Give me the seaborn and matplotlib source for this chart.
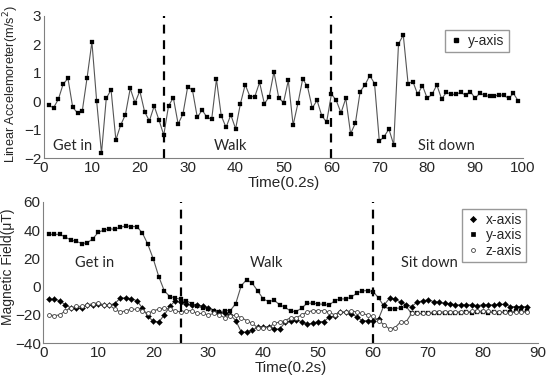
import numpy as np
import pandas as pd
import seaborn as sns
import matplotlib.pyplot as plt
from matplotlib.lines import Line2D

# top panel: linear acceleration, y-axis
acc_t = np.arange(1, 100)
acc_y = [-0.15, -0.23, 0.07, 0.6, 0.8, -0.22, -0.41, -0.33, 0.83, 2.08,
         -0.01, -1.83, 0.1, 0.4, -1.36, -0.84, -0.47, 0.45, -0.06, 0.36,
         -0.37, -0.69, -0.17, -0.66, -1.19, -0.16, 0.12, -0.8, -0.45, 0.51,
         0.38, -0.57, -0.31, -0.56, -0.64, 0.77, -0.51, -0.92, -0.48, -0.97,
         -0.09, 0.58, 0.16, 0.16, 0.66, -0.09, 0.15, 1.03, 0.12, -0.05,
         0.73, -0.84, -0.08, 0.78, 0.52, -0.24, 0.03, -0.52, -0.73, 0.25,
         0.03, -0.41, 0.1, -1.14, -0.77, 0.34, 0.57, 0.9, 0.62, -1.41,
         -1.24, -0.98, -1.53, 2.01, 2.32, 0.62, 0.69, 0.24, 0.55, 0.1,
         0.24, 0.57, 0.08, 0.31, 0.24, 0.24, 0.31, 0.21, 0.34, 0.1,
         0.29, 0.2, 0.17, 0.17, 0.23, 0.2, 0.1, 0.27, 0.01]

# bottom panel: magnetic field, three axes
mag_t = np.arange(1, 89)
mag_x = [-9, -9, -10, -13, -15, -15, -15, -13, -13, -12.5,
         -13, -13, -12, -8, -8, -8.5, -10, -15, -21, -24.5,
         -25, -20, -14, -10, -11, -12, -13, -13, -14, -15,
         -17, -18, -19, -20, -24, -32, -32.3, -30.7, -28.8, -28.8,
         -28.3, -30, -30, -25.2, -24.2, -23.8, -24.7, -26.6, -25.9, -24.7,
         -24.7, -21.7, -20.6, -18.1, -18.1, -19.3, -21.2, -24, -24.2, -24,
         -22.8, -13, -8.2, -8.7, -11, -12.9, -14.1, -11, -10.1, -9.4,
         -10.6, -11, -11.8, -12, -12.9, -12.9, -12.9, -12.9, -13.4, -12.9,
         -12.9, -12.9, -12.5, -12.5, -14.1, -14.1, -14.1, -14.1]
mag_y = [37, 37, 37, 35, 33, 32, 30.5, 31, 34, 38.5,
         40, 41, 40.5, 42, 43, 42.5, 42.5, 38, 30, 19.5,
         7, -3, -7, -8, -9, -10, -12, -14, -15, -16,
         -17, -18, -17, -17, -12, 0.7, 5, 2.4, -3, -8.7,
         -10.6, -9.6, -12.9, -14.6, -17.4, -17.6, -15.2, -11.7, -11.7, -12.2,
         -12.5, -13.2, -9.9, -8.7, -8.7, -7.5, -4.7, -3, -2.8, -3.5,
         -8, -14, -16, -15.5, -15, -14, -19, -19, -19, -19,
         -19, -19, -18.5, -18.5, -18.5, -18.5, -18, -18.5, -18, -18,
         -18.5, -18, -18.5, -18, -18, -17.5, -17.5, -17.5]
mag_z = [-20, -20.5, -20, -17, -15, -14, -14, -13, -12, -11.5,
         -13, -13, -16, -18, -17, -16, -16, -17, -19, -17,
         -16, -15, -16, -17, -18, -17, -17, -19, -19, -20,
         -19, -20, -22, -21, -20, -22, -24, -26, -29, -29,
         -29, -26, -25, -24, -22, -22, -20, -18, -17, -17,
         -17, -18, -20, -18, -18, -17, -18, -19, -20, -21,
         -24, -27, -30, -29, -25, -25, -19, -19, -19, -19,
         -18, -18, -18, -18, -18, -18, -18, -17.5, -17.5, -17.5,
         -17.5, -18, -18, -18, -18.5, -18, -18, -18]

phase_names = ['Get in', 'Walk', 'Sit down']
phase_bounds = [25, 60]

sns.set_style('white')
plt.rcParams['font.family'] = ['Liberation Sans', 'DejaVu Sans']
plt.rcParams['xtick.direction'] = 'in'
plt.rcParams['ytick.direction'] = 'in'

fig = plt.figure(figsize=(5.5, 3.83), dpi=100)
ax1 = fig.add_axes([0.080, 0.587, 0.871, 0.372])
ax2 = fig.add_axes([0.079, 0.104, 0.899, 0.369])

line_col = '#555555'
tick_col = '#262626'

# top panel
sns.lineplot(x=acc_t, y=acc_y, ax=ax1, color=line_col, lw=0.8, marker='s')
ax1.lines[-1].set(markersize=2.3, markerfacecolor='black',
                  markeredgecolor='black', markeredgewidth=0.2)
ax1.set_xlim(0, 100)
ax1.set_ylim(-2, 3)
ax1.set_xticks(range(0, 101, 10))
ax1.set_yticks(range(-2, 4))
ax1.set_xlabel('Time(0.2s)', fontsize=11, labelpad=1)
ax1.set_ylabel('Linear Accelemoreter(m/s$^2$)', fontsize=9.2)
ax1.yaxis.set_label_coords(-0.048, 0.52)
for xb in phase_bounds:
    ax1.axvline(xb, color='black', ls=(0, (4, 3)), lw=1.6)
for name, xp in zip(phase_names, [6, 39, 84]):
    ax1.text(xp, -1.57, name, fontsize=10.5, family='Lato',
             ha='center', va='center')
h1 = [Line2D([], [], ls='none', marker='s', ms=2.3, color='black')]
ax1.legend(h1, ['y-axis'], loc='upper right', fontsize=10, frameon=True,
           fancybox=False, edgecolor='#808080', handlelength=1,
           handletextpad=0.4, borderpad=0.3, bbox_to_anchor=(0.985, 0.95))

# bottom panel
styles = [('D', 3.1, 'black', 'black', 0.2),
          ('s', 2.3, 'black', 'black', 0.2),
          ('o', 2.8, 'white', '#404040', 0.6)]
for vals, (mk, ms, fc, ec, ew) in zip([mag_x, mag_y, mag_z], styles):
    sns.lineplot(x=mag_t, y=vals, ax=ax2, color=line_col, lw=0.8, marker=mk)
    ax2.lines[-1].set(markersize=ms, markerfacecolor=fc,
                      markeredgecolor=ec, markeredgewidth=ew)
ax2.set_xlim(0, 90)
ax2.set_ylim(-40, 60)
ax2.set_xticks(range(0, 91, 10))
ax2.set_yticks(range(-40, 61, 20))
ax2.set_xlabel('Time(0.2s)', fontsize=11, labelpad=1)
ax2.set_ylabel('Magnetic Field(μT)', fontsize=10)
ax2.yaxis.set_label_coords(-0.057, 0.54)
for xb in phase_bounds:
    ax2.axvline(xb, color='black', ls=(0, (4, 3)), lw=1.6)
for name, xp in zip(phase_names, [9.3, 40.6, 70.3]):
    ax2.text(xp, 17, name, fontsize=10.5, family='Lato',
             ha='center', va='center')
h2 = [Line2D([], [], ls='none', marker=mk, ms=ms, mfc=fc, mec=ec, mew=max(ew, 0.5))
      for mk, ms, fc, ec, ew in styles]
ax2.legend(h2, ['x-axis', 'y-axis', 'z-axis'], loc='upper right', fontsize=10,
           frameon=True, fancybox=False, edgecolor='#808080', handlelength=1,
           handletextpad=0.4, borderpad=0.3, labelspacing=0.1,
           bbox_to_anchor=(0.99, 1.0))

for ax in (ax1, ax2):
    sns.despine(ax=ax)
    for s in ('left', 'bottom'):
        ax.spines[s].set_color('#808080')
        ax.spines[s].set_linewidth(0.8)
    ax.tick_params(colors='#808080', labelcolor=tick_col, labelsize=11,
                   length=3, width=0.8, pad=2)

fig.savefig('out.png', dpi=100)
